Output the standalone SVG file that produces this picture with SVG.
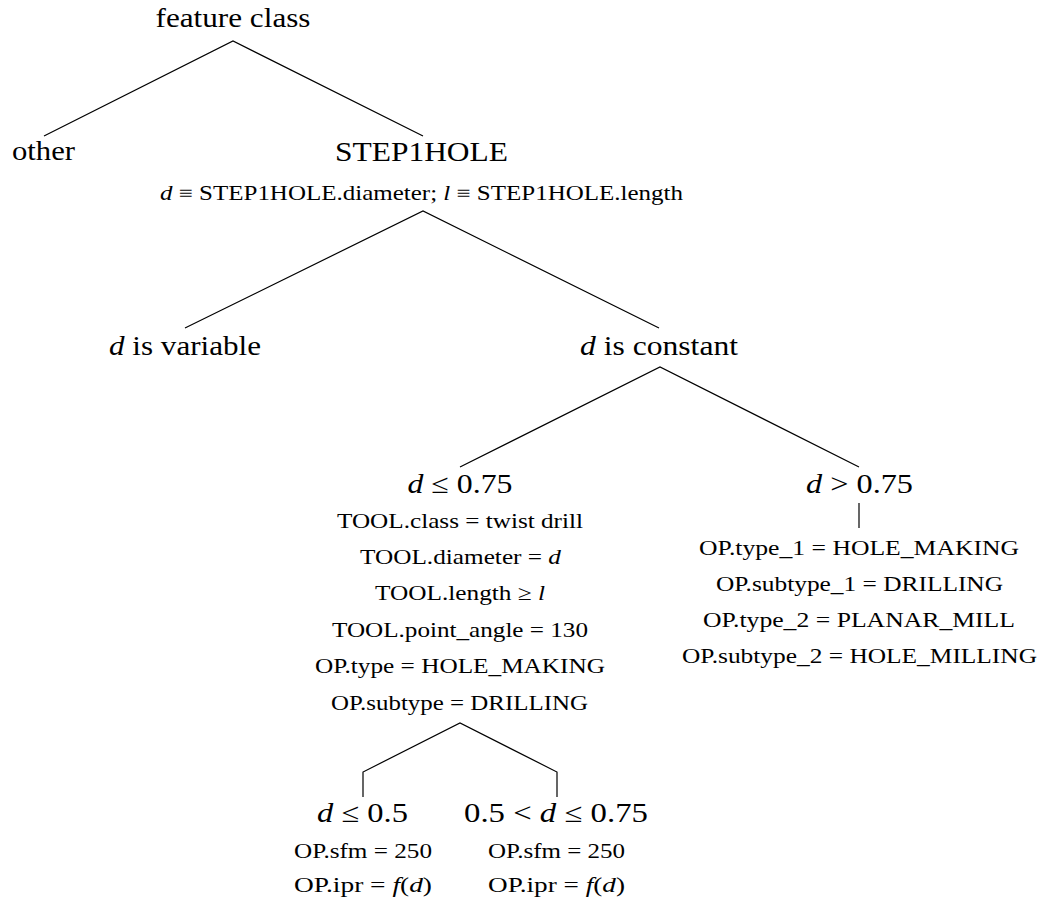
<svg xmlns="http://www.w3.org/2000/svg" width="1041" height="902" viewBox="0 0 1041 902">
  <style>
    text { font-family: "Liberation Serif", "DejaVu Serif", serif; fill: #000; text-anchor: middle; }
    .big { font-size: 27px; }
    .small { font-size: 21px; }
    .it { font-style: italic; }
    .edge { fill: none; stroke: #000; stroke-width: 1.2; }
  </style>
  <rect width="1041" height="902" fill="#fff"/>

  <!-- branches of the decision tree -->
  <g id="connectors">
    <polyline class="edge" points="44,136 233,41 423,136"/>
    <polyline class="edge" points="185,328 423,211 659,328"/>
    <polyline class="edge" points="460,467 660,367 859,467"/>
    <line class="edge" x1="859" y1="503" x2="859" y2="528"/>
    <polyline class="edge" points="363,797 363,772 460,723 557,772 557,797"/>
  </g>

  <g id="root">
    <text class="big" x="233" y="27" textLength="155" lengthAdjust="spacingAndGlyphs">feature class</text>
  </g>

  <g id="other">
    <text class="big" x="43.5" y="160" textLength="63" lengthAdjust="spacingAndGlyphs">other</text>
  </g>

  <g id="step1hole">
    <text class="big" x="421.5" y="161" textLength="173" lengthAdjust="spacingAndGlyphs">STEP1HOLE</text>
    <text class="small" x="421.5" y="200" textLength="523" lengthAdjust="spacingAndGlyphs"><tspan class="it">d</tspan> ≡ STEP1HOLE.diameter; <tspan class="it">l</tspan> ≡ STEP1HOLE.length</text>
  </g>

  <g id="d-variable">
    <text class="big" x="185" y="355" textLength="152" lengthAdjust="spacingAndGlyphs"><tspan class="it">d</tspan> is variable</text>
  </g>

  <g id="d-constant">
    <text class="big" x="659" y="355" textLength="158" lengthAdjust="spacingAndGlyphs"><tspan class="it">d</tspan> is constant</text>
  </g>

  <g id="d-le-075">
    <text class="big" x="460" y="493" textLength="105" lengthAdjust="spacingAndGlyphs"><tspan class="it">d</tspan> ≤ 0.75</text>
    <text class="small" x="460" y="528" textLength="246" lengthAdjust="spacingAndGlyphs">TOOL.class = twist drill</text>
    <text class="small" x="460.5" y="564" textLength="201" lengthAdjust="spacingAndGlyphs">TOOL.diameter = <tspan class="it">d</tspan></text>
    <text class="small" x="460" y="600" textLength="170" lengthAdjust="spacingAndGlyphs">TOOL.length ≥ <tspan class="it">l</tspan></text>
    <text class="small" x="460" y="637" textLength="256" lengthAdjust="spacingAndGlyphs">TOOL.point_angle = 130</text>
    <text class="small" x="460" y="673" textLength="290" lengthAdjust="spacingAndGlyphs">OP.type = HOLE_MAKING</text>
    <text class="small" x="459.5" y="710" textLength="257" lengthAdjust="spacingAndGlyphs">OP.subtype = DRILLING</text>
  </g>

  <g id="d-gt-075">
    <text class="big" x="859.5" y="493" textLength="107" lengthAdjust="spacingAndGlyphs"><tspan class="it">d</tspan> &gt; 0.75</text>
    <text class="small" x="859" y="555" textLength="320" lengthAdjust="spacingAndGlyphs">OP.type_1 = HOLE_MAKING</text>
    <text class="small" x="859.5" y="591" textLength="287" lengthAdjust="spacingAndGlyphs">OP.subtype_1 = DRILLING</text>
    <text class="small" x="859" y="627" textLength="312" lengthAdjust="spacingAndGlyphs">OP.type_2 = PLANAR_MILL</text>
    <text class="small" x="859.5" y="663" textLength="355" lengthAdjust="spacingAndGlyphs">OP.subtype_2 = HOLE_MILLING</text>
  </g>

  <g id="d-le-05">
    <text class="big" x="362.5" y="822" textLength="91" lengthAdjust="spacingAndGlyphs"><tspan class="it">d</tspan> ≤ 0.5</text>
    <text class="small" x="363" y="858" textLength="138" lengthAdjust="spacingAndGlyphs">OP.sfm = 250</text>
    <text class="small" x="363" y="892" textLength="138" lengthAdjust="spacingAndGlyphs">OP.ipr = <tspan class="it">f</tspan>(<tspan class="it">d</tspan>)</text>
  </g>

  <g id="d-between">
    <text class="big" x="556" y="822" textLength="184" lengthAdjust="spacingAndGlyphs">0.5 &lt; <tspan class="it">d</tspan> ≤ 0.75</text>
    <text class="small" x="556.5" y="858" textLength="137" lengthAdjust="spacingAndGlyphs">OP.sfm = 250</text>
    <text class="small" x="556.5" y="892" textLength="137" lengthAdjust="spacingAndGlyphs">OP.ipr = <tspan class="it">f</tspan>(<tspan class="it">d</tspan>)</text>
  </g>
</svg>
